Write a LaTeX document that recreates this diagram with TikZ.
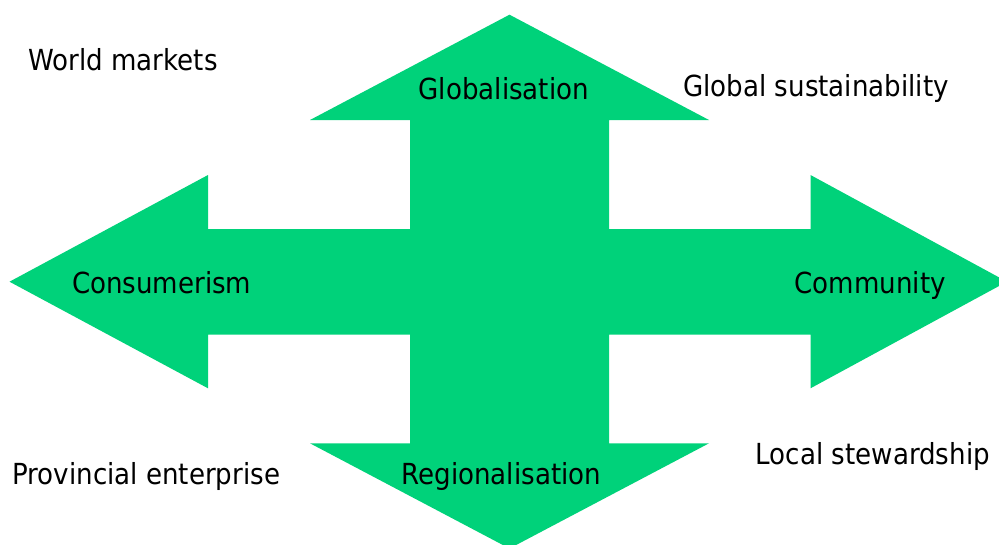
\documentclass[tikz,border=0pt]{standalone}
\usepackage{fontspec}
\setmainfont{DejaVu Sans}[FakeStretch=0.9]
\definecolor{arrowgreen}{RGB}{0,210,122}
\begin{document}
\begin{tikzpicture}[x=1pt,y=-1pt,
  lbl/.style={anchor=base,inner sep=0pt,font=\fontsize{29}{34}\selectfont,text=black}]
\useasboundingbox (0,0) rectangle (999,544);
\begin{scope}
\clip (0,0) rectangle (999,544);
\fill[arrowgreen] (509.5,14.7) -- (709,120) -- (609,120) -- (609,229) -- (810.5,229)
  -- (810.5,175) -- (1007,281.7) -- (810.5,388.3) -- (810.5,334.5) -- (609,334.5)
  -- (609,443.3) -- (709,443.3) -- (509.5,548.5) -- (310,443.3) -- (410,443.3)
  -- (410,334.5) -- (208,334.5) -- (208,388.3) -- (9.5,281.7) -- (208,175)
  -- (208,229) -- (410,229) -- (410,120) -- (310,120) -- cycle;
\end{scope}
\node[lbl] (glob) at (503.8,99) {Globalisation};
\node[lbl] (reg) at (501.3,484.3) {Regionalisation};
\node[lbl] (cons) at (161.7,293.3) {Consumerism};
\node[lbl] (comm) at (870.3,293.3) {Community};
\node[lbl] (world) at (123,70.7) {World markets};
\node[lbl] (gsus) at (816,96.7) {Global sustainability};
\node[lbl] (prov) at (146.3,484.3) {Provincial enterprise};
\node[lbl] (local) at (872.8,464.3) {Local stewardship};
\end{tikzpicture}
\end{document}
